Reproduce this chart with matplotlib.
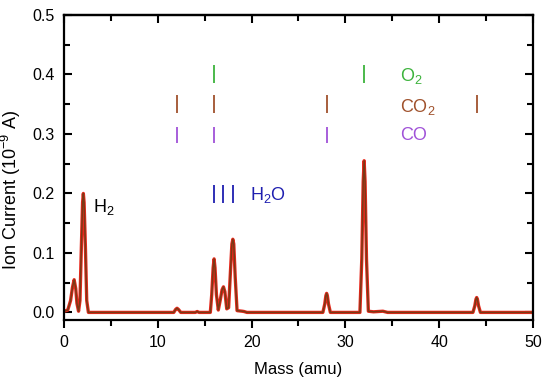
import matplotlib
matplotlib.use("Agg")
import matplotlib.pyplot as plt
from matplotlib.ticker import MultipleLocator

plt.rcParams['font.family'] = ['Liberation Sans', 'DejaVu Sans']
plt.rcParams['mathtext.fontset'] = 'custom'
plt.rcParams['mathtext.rm'] = 'Liberation Sans'

# spectrum (mass in amu, current in 1e-9 A)
mass = [0.0, 0.4, 0.7, 0.9, 1.08, 1.25, 1.38, 1.55,
        1.7, 1.85, 1.98, 2.06, 2.14, 2.28, 2.42, 2.6,
        11.7, 11.9, 12.05, 12.2, 12.45, 14.0, 14.2, 14.4,
        15.6, 15.75, 15.9, 16.0, 16.1, 16.25, 16.45,
        16.65, 16.85, 17.0, 17.15, 17.35,
        17.55, 17.75, 17.9, 18.0, 18.1, 18.25, 18.45, 19.0, 19.2, 19.5,
        27.6, 27.8, 27.92, 28.0, 28.08, 28.2, 28.4,
        31.55, 31.75, 31.9, 32.0, 32.1, 32.25, 32.45, 33.0, 34.0, 34.5,
        43.6, 43.8, 43.92, 44.0, 44.08, 44.2, 44.4, 50.0]
current = [0.002, 0.004, 0.02, 0.042, 0.055, 0.04, 0.015, 0.002,
           0.02, 0.11, 0.185, 0.2, 0.185, 0.11, 0.02, 0.0,
           0.0, 0.005, 0.007, 0.005, 0.0, 0.0, 0.0015, 0.0,
           0.0, 0.03, 0.075, 0.09, 0.075, 0.03, 0.004,
           0.02, 0.038, 0.043, 0.035, 0.006,
           0.008, 0.07, 0.115, 0.123, 0.115, 0.06, 0.003, 0.002, 0.0015, 0.0,
           0.0, 0.014, 0.028, 0.032, 0.028, 0.014, 0.0,
           0.0, 0.09, 0.22, 0.255, 0.22, 0.09, 0.002, 0.001, 0.002, 0.0,
           0.0, 0.011, 0.022, 0.025, 0.022, 0.011, 0.0, 0.0]

# fragment positions for each species
o2_mass = [16, 32]
co2_mass = [12, 16, 28, 44]
co_mass = [12, 16, 28]
h2o_mass = [16, 17, 18]

fig = plt.figure(figsize=(5.5, 3.85), dpi=100)
ax = fig.add_axes([0.1164, 0.170, 0.8526, 0.791])

ax.plot(mass, current, color='#e8281c', lw=2.4)
ax.plot(mass, current, color='#7a3a16', lw=1.1)

ax.vlines(o2_mass, 0.386, 0.416, color='#3db33d', lw=1.3)
ax.vlines(co2_mass, 0.335, 0.366, color='#a0522d', lw=1.3)
ax.vlines(co_mass, 0.285, 0.312, color='#a052d8', lw=1.3)
ax.vlines(h2o_mass, 0.184, 0.214, color='#1f1fb0', lw=1.3)

ax.text(35.8, 0.398, 'O$_2$', color='#3db33d', fontsize=13, va='center')
ax.text(35.8, 0.346, 'CO$_2$', color='#a0522d', fontsize=13, va='center')
ax.text(35.8, 0.298, 'CO', color='#a052d8', fontsize=13, va='center')
ax.text(19.8, 0.197, 'H$_2$O', color='#1f1fb0', fontsize=13, va='center')
ax.text(3.1, 0.177, 'H$_2$', color='black', fontsize=13, va='center')

ax.set_xlim(0, 50)
ax.set_ylim(-0.012, 0.5)
ax.xaxis.set_major_locator(MultipleLocator(10))
ax.xaxis.set_minor_locator(MultipleLocator(5))
ax.yaxis.set_major_locator(MultipleLocator(0.1))
ax.yaxis.set_minor_locator(MultipleLocator(0.05))
ax.tick_params(which='both', top=True, right=True, labelsize=11.5, width=1.5)
ax.tick_params(axis='y', which='both', direction='in', pad=7)
ax.tick_params(axis='x', which='both', direction='out', pad=5)
ax.tick_params(axis='x', which='both', top=False)
ax.tick_params(which='major', length=6)
ax.tick_params(which='minor', length=4)
for s in ax.spines.values():
    s.set_linewidth(1.6)

# top spine ticks point inward, drawn on a twin axis
top = ax.secondary_xaxis('top')
top.xaxis.set_major_locator(MultipleLocator(10))
top.xaxis.set_minor_locator(MultipleLocator(5))
top.tick_params(which='both', direction='in', width=1.5, labeltop=False)
top.tick_params(which='major', length=6)
top.tick_params(which='minor', length=4)
top.spines['top'].set_linewidth(1.6)

ax.set_xlabel('Mass (amu)', fontsize=12, labelpad=9)
ax.set_ylabel('Ion Current (10$^{-9}$ A)', fontsize=13)
ax.yaxis.set_label_coords(-0.087, 0.425)

fig.savefig('out.png', dpi=100)
